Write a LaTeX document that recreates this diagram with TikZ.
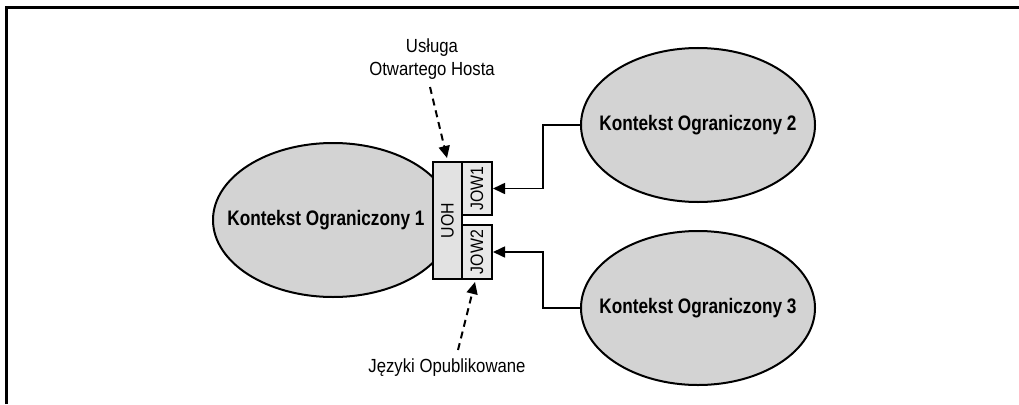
\documentclass[tikz,border=0pt]{standalone}
\usepackage{fontspec}
\setmainfont{Liberation Sans}
\newfontfamily\ctxfont[FakeStretch=0.82]{Liberation Sans}
\newfontfamily\labfont[FakeStretch=0.88]{Liberation Sans}
\usetikzlibrary{shapes.geometric,arrows.meta}
\definecolor{ctxgray}{HTML}{D3D3D3}
\definecolor{boxgray}{HTML}{E2E2E2}
\definecolor{jowgray}{HTML}{E8E8E8}
\tikzset{
  ctx/.style={ellipse,draw=black,line width=2pt,fill=ctxgray,inner sep=0pt,
    minimum width=234pt,minimum height=154pt},
  ctxtext/.style={inner sep=0pt,font=\ctxfont\bfseries\fontsize{21}{25}\selectfont},
  svcbox/.style={rectangle,draw=black,line width=2pt,inner sep=0pt,
    font=\labfont\fontsize{18}{20}\selectfont},
  lab/.style={inner sep=0pt,align=center,font=\labfont\fontsize{19}{23}\selectfont},
  conn/.style={line width=1.6pt,-{Triangle[length=12pt,width=11pt]}},
  dasharr/.style={line width=2pt,dash pattern=on 7pt off 5pt,-{Triangle[length=12pt,width=11pt]}},
}
\begin{document}
\begin{tikzpicture}[x=1pt,y=-1pt]
\useasboundingbox (0,0) rectangle (1019,404);
\draw[line width=3pt] (6,404) -- (6,7.5) -- (1019,7.5);
\node[ctx,minimum width=240pt] (c1) at (333,220) {};
\node[ctxtext] (t1) at (326,220) {Kontekst Ograniczony 1};
\node[ctx] (c2) at (698,125) {};
\node[ctxtext] (t2) at (c2) {Kontekst Ograniczony 2};
\node[ctx] (c3) at (698,308) {};
\node[ctxtext] (t3) at (c3) {Kontekst Ograniczony 3};
\node[svcbox,fill=boxgray,minimum width=29pt,minimum height=117pt] (uoh) at (447.5,220.5) {\rotatebox{90}{UOH}};
\node[svcbox,fill=jowgray,minimum width=30pt,minimum height=53pt] (jow1) at (477,188.5) {\rotatebox{90}{JOW1}};
\node[svcbox,fill=jowgray,minimum width=30pt,minimum height=54pt] (jow2) at (477,252) {\rotatebox{90}{JOW2}};
\coordinate (k2) at (543,125);
\coordinate (k3) at (543,308);
\draw[conn] (c2.west) -- (k2) |- (jow1.east);
\draw[conn] (c3.west) -- (k3) |- (jow2.east);
\node[lab] (l1) at (432,59) {Usługa\\Otwartego Hosta};
\node[lab,anchor=base] (l2) at (447,372) {Języki Opublikowane};
\coordinate (s1) at (430,87);
\coordinate (e1) at (447,158);
\coordinate (s2) at (458,350);
\coordinate (e2) at (475,282);
\draw[dasharr] (s1) -- (e1);
\draw[dasharr] (s2) -- (e2);
\end{tikzpicture}
\end{document}
